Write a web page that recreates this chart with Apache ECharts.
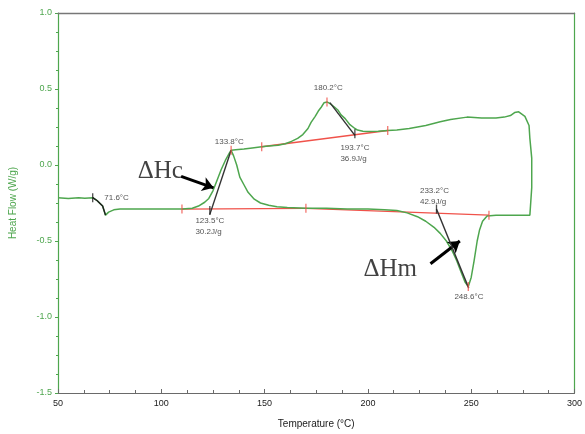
<!DOCTYPE html>
<html>
<head>
<meta charset="utf-8">
<script src="https://cdn.jsdelivr.net/npm/echarts@6/dist/echarts.min.js"></script>
<style>
  html, body { margin: 0; padding: 0; background: #fff; }
  #chart { width: 585px; height: 434px; }
</style>
</head>
<body>
<div id="chart"></div>
<script>
// DSC trace: heating branch (glass transition, cold crystallisation, melting) and the return branch
const tempC = [
  50, 55, 60, 63, 66.8, 69, 71.6, 73, 74.5, 77, 80, 90, 100, 110, 115, 118, 121, 123, 125, 127,
  129, 131, 133, 133.8, 135, 136.5, 138, 140, 142, 145, 148, 152, 156, 161, 170, 180, 190, 200,
  208, 214, 219, 224, 228, 232, 235, 238, 241, 243, 245, 247, 248.6, 250, 251.4, 252.9, 254,
  255.5, 257.7, 262, 270, 276, 278.4, 279.3, 279.3, 278.4, 278, 276, 273, 271, 269, 266, 262,
  255, 248, 240, 235, 228, 220, 214, 209.6, 205, 200, 197.6, 195, 193.7, 191.3, 189, 187, 185.6,
  183.5, 181.5, 180.2, 178.8, 177.4, 176, 174.5, 172.5, 171, 168.5, 166, 163, 160, 156.5, 152,
  148.6, 144, 140, 136, 133.8
];
const heatFlow = [
  -0.215, -0.22, -0.215, -0.218, -0.215, -0.235, -0.27, -0.33, -0.31, -0.295, -0.29, -0.29, -0.29,
  -0.29, -0.285, -0.27, -0.245, -0.22, -0.17, -0.1, -0.03, 0.03, 0.08, 0.097, 0.06, 0.0, -0.08,
  -0.13, -0.18, -0.225, -0.25, -0.265, -0.275, -0.28, -0.285, -0.285, -0.29, -0.29, -0.295, -0.3,
  -0.315, -0.34, -0.37, -0.41, -0.45, -0.5, -0.57, -0.63, -0.7, -0.77, -0.8, -0.74, -0.63, -0.5,
  -0.43, -0.37, -0.335, -0.33, -0.33, -0.33, -0.33, -0.15, 0.045, 0.175, 0.26, 0.32, 0.35, 0.345,
  0.325, 0.315, 0.31, 0.31, 0.315, 0.3, 0.285, 0.26, 0.24, 0.23, 0.227, 0.222, 0.22, 0.222, 0.23,
  0.24, 0.265, 0.305, 0.33, 0.36, 0.385, 0.405, 0.415, 0.41, 0.38, 0.355, 0.32, 0.28, 0.24, 0.2,
  0.175, 0.155, 0.14, 0.13, 0.125, 0.12, 0.112, 0.105, 0.1, 0.097
];

// integration baselines (start/end temperature and heat flow)
const baselineCold = [[110, -0.29], [170, -0.285]];
const baselineMelt = [[170, -0.285], [258.6, -0.33]];
const baselineTop  = [[148.6, 0.12], [209.6, 0.227]];

// tangent/onset construction lines
const tangentTg   = [[66.8, -0.215], [69, -0.235], [71.6, -0.27], [73, -0.33]];
const tangentCold = [[123.5, -0.325], [133.8, 0.097]];
const tangentTop  = [[181.6, 0.41], [193.7, 0.195]];
const tangentMelt = [[233.2, -0.29], [248.8, -0.81]];

// limit markers on the baselines and peaks
const redMarks   = [[110, -0.29], [170, -0.285], [258.6, -0.33], [148.6, 0.12], [209.6, 0.227], [180.2, 0.415], [133.8, 0.097], [248.6, -0.8]];
const blackMarks = [[123.5, -0.3], [193.7, 0.205], [233.2, -0.29], [66.8, -0.215]];

// result annotations
const noteTexts = ['71.6°C', '133.8°C', '123.5°C\n30.2J/g', '180.2°C', '193.7°C\n36.9J/g', '233.2°C\n42.9J/g', '248.6°C'];
const noteAt    = [[72.4, -0.214], [132.9, 0.15], [116.5, -0.4], [180.8, 0.506], [186.7, 0.076], [225.2, -0.205], [248.9, -0.87]];
const noteAlign = ['left', 'center', 'left', 'center', 'left', 'left', 'center'];

const bigLabels   = ['ΔHc', 'ΔHm'];
const bigLabelAt  = [[99.5, -0.04], [210.8, -0.685]];
const arrows = [
  [[109.6, -0.075], [125.3, -0.15]],
  [[230.3, -0.65], [244.5, -0.5]]
];

const GREEN = '#4ea64e';
const RED = '#f0524a';
const INK = '#1e1e1e';

const curve = tempC.map((t, i) => [t, heatFlow[i]]);

const chart = echarts.init(document.getElementById('chart'), null, { renderer: 'canvas' });

const lineSeries = (data, color, width, z) => ({
  type: 'line', data, showSymbol: false, symbol: 'none', silent: true, z,
  lineStyle: { color, width }, animation: false
});

chart.setOption({
  animation: false,
  backgroundColor: '#fff',
  grid: { left: 58, right: 8, top: 13, bottom: 37 },
  xAxis: [{
    type: 'value', min: 50, max: 300, interval: 50, position: 'bottom',
    name: 'Temperature (°C)', nameLocation: 'middle', nameGap: 26,
    nameTextStyle: { color: '#1a1a1a', fontSize: 10, fontFamily: 'Liberation Sans, Arial' },
    axisLine: { onZero: false, lineStyle: { color: '#6a6a6a', width: 1.2 } },
    axisTick: { inside: true, length: 4, lineStyle: { color: '#6a6a6a' } },
    minorTick: { show: true, splitNumber: 4, length: 3, lineStyle: { color: '#6a6a6a' } },
    axisLabel: { color: '#1a1a1a', fontSize: 9, margin: 6, fontFamily: 'Liberation Sans, Arial' },
    splitLine: { show: false }
  }, {
    type: 'value', min: 50, max: 300, position: 'top', z: 10,
    axisLine: { show: true, onZero: false, lineStyle: { color: '#777777', width: 1.4 } },
    axisTick: { show: false }, axisLabel: { show: false }, splitLine: { show: false }
  }],
  yAxis: [{
    type: 'value', min: -1.5, max: 1, interval: 0.5, position: 'left',
    name: 'Heat Flow (W/g)', nameLocation: 'middle', nameGap: 40,
    nameTextStyle: { color: GREEN, fontSize: 10, fontFamily: 'Liberation Sans, Arial' },
    axisLine: { show: true, onZero: false, lineStyle: { color: GREEN, width: 1.2 } },
    axisTick: { show: true, length: 3, lineStyle: { color: GREEN } },
    minorTick: { show: true, splitNumber: 4, length: 2, lineStyle: { color: GREEN } },
    axisLabel: { color: GREEN, fontSize: 9, margin: 6, fontFamily: 'Liberation Sans, Arial',
      formatter: v => v.toFixed(1) },
    splitLine: { show: false }
  }, {
    type: 'value', min: -1.5, max: 1, position: 'right',
    axisLine: { show: true, onZero: false, lineStyle: { color: GREEN, width: 1.2 } },
    axisTick: { show: false }, axisLabel: { show: false }, splitLine: { show: false }
  }],
  series: [
    lineSeries(baselineCold, RED, 1.3, 3),
    lineSeries(baselineMelt, RED, 1.3, 3),
    lineSeries(baselineTop, RED, 1.3, 3),
    lineSeries(curve, GREEN, 1.5, 4),
    lineSeries(tangentTg, INK, 1.4, 5),
    lineSeries(tangentCold, '#333', 1.4, 5),
    lineSeries(tangentTop, '#333', 1.4, 5),
    lineSeries(tangentMelt, '#333', 1.4, 5),
    {
      type: 'scatter', data: redMarks, symbol: 'rect', symbolSize: [1.3, 9], silent: true, z: 6,
      itemStyle: { color: RED }
    },
    {
      type: 'scatter', data: blackMarks, symbol: 'rect', symbolSize: [1.3, 9], silent: true, z: 6,
      itemStyle: { color: INK }
    },
    {
      type: 'scatter', symbolSize: 0, silent: true, z: 7,
      data: noteTexts.map((txt, i) => ({
        value: noteAt[i],
        label: {
          show: true, position: 'inside', formatter: txt, align: noteAlign[i],
          color: '#1f1f1f', fontSize: 8, lineHeight: 11, fontFamily: 'Liberation Sans, Arial'
        }
      }))
    },
    {
      type: 'scatter', symbolSize: 0, silent: true, z: 7,
      data: bigLabels.map((txt, i) => ({
        value: bigLabelAt[i],
        label: {
          show: true, position: 'inside', formatter: txt, align: 'center',
          color: '#111', fontSize: 25, fontFamily: 'Liberation Serif, Times New Roman, serif'
        }
      }))
    },
    {
      type: 'line', data: [], silent: true, z: 8,
      markLine: {
        silent: true, animation: false,
        symbol: ['none', 'arrow'], symbolSize: 11,
        label: { show: false },
        lineStyle: { color: '#000', width: 3, type: 'solid' },
        data: arrows.map(a => [{ coord: a[0] }, { coord: a[1] }])
      }
    }
  ]
});
</script>
</body>
</html>
